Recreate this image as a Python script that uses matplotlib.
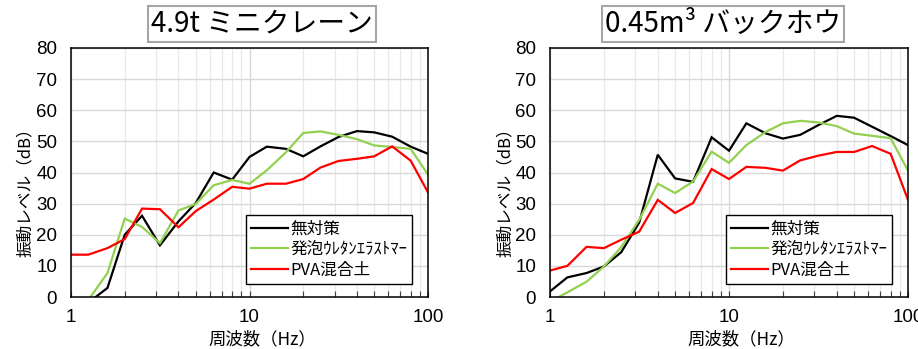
import matplotlib
matplotlib.use("Agg")
import matplotlib.pyplot as plt
from matplotlib import font_manager
from matplotlib.ticker import LogLocator, FixedLocator, NullFormatter

# 1/3 octave band centre frequencies (Hz)
freqs = [1, 1.25, 1.6, 2, 2.5, 3.15, 4, 5, 6.3, 8, 10, 12.5, 16, 20, 25,
         31.5, 40, 50, 63, 80, 100]

# 4.9t mini crane
crane_none = [-5, -1.8, 2.9, 20.0, 26.1, 16.6, 24.3, 30.2, 40.0, 37.7, 45.0,
              48.3, 47.6, 45.2, 48.4, 51.4, 53.3, 52.9, 51.5, 48.3, 46.0]
crane_foam = [-6, -1.0, 7.7, 25.2, 22.5, 17.3, 27.8, 29.9, 35.9, 37.6, 36.4,
              40.7, 46.5, 52.7, 53.2, 52.1, 50.7, 48.7, 48.2, 47.6, 39.3]
crane_pva = [13.6, 13.6, 15.7, 18.6, 28.4, 28.2, 22.4, 27.6, 31.3, 35.4, 34.8,
             36.4, 36.4, 37.9, 41.6, 43.7, 44.4, 45.2, 48.4, 43.8, 33.6]

# 0.45m3 backhoe
hoe_none = [1.8, 6.3, 7.7, 9.8, 14.4, 23.9, 45.7, 38.1, 37.0, 51.3, 47.0,
            55.8, 52.6, 50.9, 52.1, 55.2, 58.2, 57.6, 54.7, 51.7, 48.8]
hoe_foam = [-1.5, 1.5, 4.9, 9.8, 16.0, 24.8, 36.4, 33.4, 37.1, 46.7, 43.1,
            48.8, 53.0, 55.8, 56.6, 56.1, 54.9, 52.5, 51.8, 51.0, 40.6]
hoe_pva = [8.5, 10.0, 16.1, 15.7, 18.4, 21.0, 31.2, 27.0, 30.2, 41.1, 37.9,
           41.8, 41.5, 40.6, 43.9, 45.4, 46.6, 46.6, 48.5, 46.0, 31.2]

series_labels = ["無対策", "発泡ｳﾚﾀﾝｴﾗｽﾄﾏｰ", "PVA混合土"]
series_colors = ["#000000", "#92D050", "#FF0000"]
titles = ["4.9t ミニクレーン", "0.45m³ バックホウ"]
y_ticks = [0, 10, 20, 30, 40, 50, 60, 70, 80]
x_ticks = [1, 10, 100]

installed = {f.name for f in font_manager.fontManager.ttflist}
num_font = "Liberation Sans Narrow" if "Liberation Sans Narrow" in installed else "Liberation Sans"
mono_cjk = "Noto Sans Mono CJK JP" if "Noto Sans Mono CJK JP" in installed else "Noto Sans CJK JP"
cjk = ["Noto Sans CJK JP", "DejaVu Sans"]
plt.rcParams["font.family"] = cjk

fig = plt.figure(figsize=(9.18, 3.49), dpi=100)
W, H = 918, 349

def px_axes(x0, x1, y0, y1):
    return fig.add_axes([x0 / W, 1 - y1 / H, (x1 - x0) / W, (y1 - y0) / H])

axes_px = [(71, 428, 48, 297), (550, 908, 48, 297)]
title_cx = [262, 723]
xlabel_cx = [262, 741]
ylabel_x = [25, 505]
data = [(crane_none, crane_foam, crane_pva), (hoe_none, hoe_foam, hoe_pva)]

for i in range(2):
    ax = px_axes(*axes_px[i])
    for vals, lab, col in zip(data[i], series_labels, series_colors):
        ax.plot(freqs, vals, color=col, lw=1.6, label=lab, solid_joinstyle="miter")
    ax.set_xscale("log")
    ax.set_xlim(1, 100)
    ax.set_ylim(0, 80)
    ax.set_yticks(y_ticks)
    ax.xaxis.set_major_locator(FixedLocator(x_ticks))
    ax.xaxis.set_minor_locator(LogLocator(base=10, subs=range(2, 10)))
    ax.xaxis.set_minor_formatter(NullFormatter())
    ax.set_xticklabels([str(t) for t in x_ticks])
    ax.grid(True, which="major", color="#d9d9d9", lw=1.0)
    ax.grid(True, which="minor", axis="x", color="#e8e8e8", lw=0.9)
    ax.set_axisbelow(True)
    ax.tick_params(axis="y", length=0, pad=10)
    ax.tick_params(axis="x", which="both", direction="in", length=4,
                   width=0.8, color="#404040", pad=9)
    for lbl in ax.get_xticklabels() + ax.get_yticklabels():
        lbl.set_fontfamily(num_font)
        lbl.set_fontsize(13.5)
    for s in ax.spines.values():
        s.set_color("black")
        s.set_linewidth(1.1)

    leg = ax.legend(loc="lower right", bbox_to_anchor=(0.965, 0.04),
                    frameon=True, fancybox=False, edgecolor="black",
                    framealpha=1, fontsize=12, handlelength=2.2,
                    handletextpad=0.15, labelspacing=0.22, borderpad=0.3,
                    borderaxespad=0.2)
    leg.get_frame().set_linewidth(1.0)
    for t in leg.get_texts():
        t.set_fontfamily(cjk)

    fig.text(title_cx[i] / W, 1 - 24 / H, titles[i], ha="center", va="center",
             fontsize=20, family=[mono_cjk, "Noto Sans CJK JP", "DejaVu Sans"],
             bbox=dict(boxstyle="square,pad=0.12", fc="white", ec="#a6a6a6", lw=1.5))
    fig.text(xlabel_cx[i] / W, 1 - 339 / H, "周波数（Hz）", ha="center", va="center",
             fontsize=12.5, family=cjk)
    fig.text(ylabel_x[i] / W, 1 - 188 / H, "振動レベル（dB）", ha="center", va="center",
             rotation=90, fontsize=12, family=cjk)

fig.savefig("out.png", dpi=100)
